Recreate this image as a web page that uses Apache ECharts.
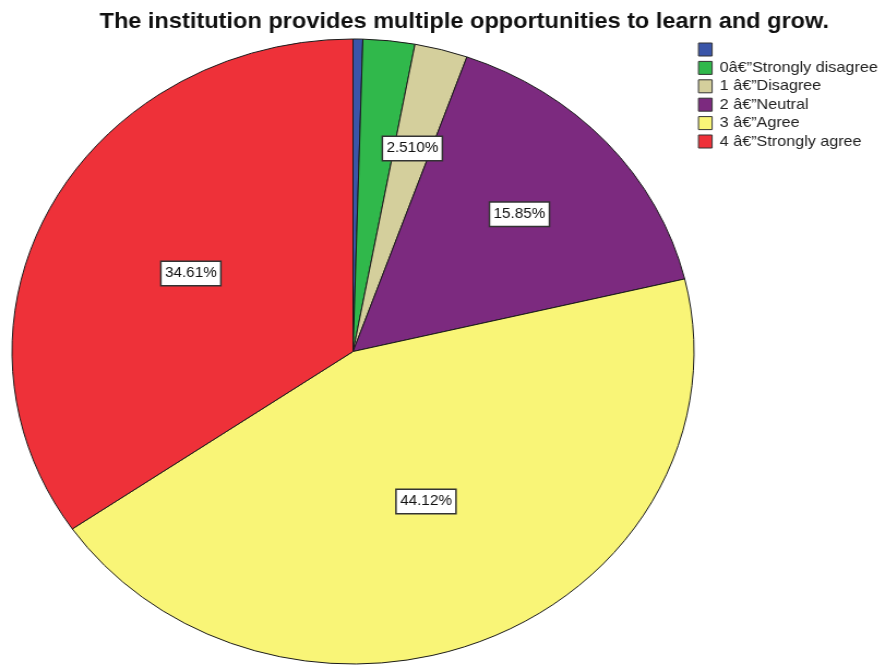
<!DOCTYPE html>
<html><head><meta charset="utf-8">
<script src="https://cdn.jsdelivr.net/npm/echarts@6/dist/echarts.min.js"></script>
<style>
html,body{margin:0;padding:0;background:#fff;overflow:hidden}
#wrap{position:relative;width:882px;height:665px;overflow:hidden}
#chart{position:absolute;left:0;top:0;width:808.3px;height:665px;transform:scaleX(1.0912);transform-origin:0 0}
</style></head><body>
<div id="wrap"><div id="chart"></div></div>
<script>
const titleText = 'The institution provides multiple opportunities to learn and grow.';
const categories = [' ', '0\u00e2\u20ac\u201dStrongly disagree', '1 \u00e2\u20ac\u201dDisagree', '2 \u00e2\u20ac\u201dNeutral', '3 \u00e2\u20ac\u201dAgree', '4 \u00e2\u20ac\u201dStrongly agree'];
const percentages = [0.46, 2.45, 2.51, 15.85, 44.12, 34.61];
const showLabel = [false, false, true, true, true, true];
const colors = ['#3a55a8', '#30b84b', '#d4cf9c', '#7c2a7f', '#f9f577', '#ee3139'];
const labelRadius = [0.5, 0.5, 0.66, 0.644, 0.516, 0.527];

const FONT = 'Arial';
const CX = 323.5, CY = 351.5, R = 312.5;

const pieData = categories.map((name, i) => ({
  name: name,
  value: percentages[i],
  itemStyle: { color: colors[i] },
  label: { show: showLabel[i] }
}));

const chart = echarts.init(document.getElementById('chart'), null, { renderer: 'canvas' });
chart.setOption({
  animation: false,
  textStyle: { fontFamily: FONT },
  title: {
    text: titleText,
    left: 420.5,
    textAlign: 'center',
    top: 6,
    textStyle: { fontFamily: FONT, fontSize: 21.6, fontWeight: 'bold', color: '#111' }
  },
  legend: {
    orient: 'vertical',
    left: 634.6,
    top: 37,
    icon: 'rect',
    itemWidth: 12.5,
    itemHeight: 13,
    itemGap: 3.4,
    selectedMode: false,
    itemStyle: { borderColor: '#333', borderWidth: 1 },
    textStyle: { fontFamily: FONT, fontSize: 14.8, color: '#222', padding: [0, 0, 0, 2] },
    data: categories
  },
  series: [{
    type: 'pie',
    center: [CX, CY],
    radius: R,
    startAngle: 90,
    clockwise: true,
    avoidLabelOverlap: false,
    silent: true,
    itemStyle: { borderColor: '#1a1a1a', borderWidth: 1 },
    label: {
      position: 'inside',
      formatter: p => p.value.toPrecision(4) + '%',
      fontFamily: FONT,
      fontSize: 14,
      color: '#111',
      backgroundColor: '#fff',
      borderColor: '#333',
      borderWidth: 1.5,
      padding: [5, 3, 4, 3]
    },
    labelLine: { show: false },
    labelLayout: function (params) {
      const r = params.labelRect;
      const lx = r.x + r.width / 2, ly = r.y + r.height / 2;
      const k = labelRadius[params.dataIndex] / 0.5 - 1;
      return { dx: (lx - CX) * k, dy: (ly - CY) * k };
    },
    data: pieData
  }]
});
</script>
</body></html>
